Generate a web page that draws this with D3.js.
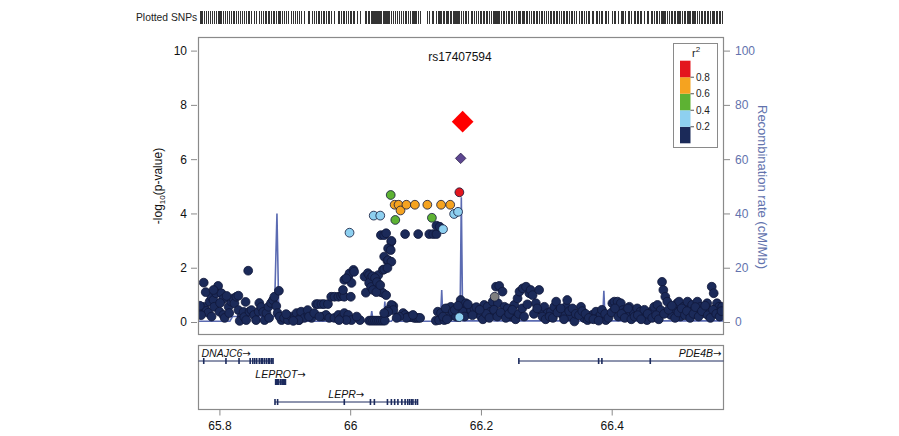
<!DOCTYPE html>
<html><head><meta charset="utf-8">
<script src="https://cdn.jsdelivr.net/npm/d3@7"></script>
<style>body{margin:0;background:#fff}svg{display:block}text{font-family:"Liberation Sans",Arial,sans-serif}</style>
</head><body><svg id="c" width="899" height="436"></svg>
<script>
// ---------- data ----------
const xDomain = [65.768, 66.571];
const xTicks = [65.8, 66, 66.2, 66.4];
const xTickLabels = ["65.8", "66", "66.2", "66.4"];
const yTicks = [0, 2, 4, 6, 8, 10];
const recTicks = [0, 20, 40, 60, 80, 100];
const legendTicks = [0.2, 0.4, 0.6, 0.8];
const r2Bins = [0, 0.2, 0.4, 0.6, 0.8, 1.0];
const r2Colors = ["#1b2a59", "#8ed0f0", "#5db233", "#f5a320", "#e3161e"];
const leadSnp = { name: "rs17407594", pos: 66.172, logp: 7.38 };
const purpleSnps = [[66.169, 6.03]];
const graySnps = [[66.221, 0.93]];
const redSnps = [[66.167, 4.78]];
const orangeSnps = [[66.068,4.32],[66.074,4.32],[66.077,4.11],[66.086,4.32],[66.099,4.32],[66.118,4.32],[66.139,4.32],[66.153,4.32]];
const greenSnps = [[66.062,4.68],[66.069,3.76],[66.125,3.84]];
const lightBlueSnps = [[65.999,3.29],[66.036,3.92],[66.046,3.92],[66.142,3.42],[66.159,3.98],[66.165,4.06],[66.167,0.18]];
const navySnps = [
[65.776,1.45],[65.773,0.44],[65.777,0.56],[65.780,0.41],[65.785,0.75],[65.788,0.93],[65.791,0.81],[65.783,0.34],[65.798,1.33],[65.795,1.06],
[65.803,1.06],[65.792,0.56],[65.800,0.38],[65.806,0.26],[65.808,0.15],[65.814,0.56],[65.818,0.75],[65.821,0.87],[65.823,0.69],[65.826,0.93],
[65.829,0.97],[65.815,0.33],[65.806,0.85],[65.788,0.2],[65.829,0.44],[65.834,0.2],[65.831,0.04],[65.811,0.96],[65.779,1.10],[65.791,1.18],
[65.801,0.70],[65.840,0.74],[65.837,0.37],[65.770,0.6],[65.772,0.25],
[65.844,1.89],[65.838,0.18],[65.841,0.07],[65.846,0.38],[65.849,0.44],[65.853,0.26],[65.856,0.07],[65.860,0.38],[65.861,0.70],[65.864,0.55],
[65.867,0.37],[65.869,0.07],[65.872,0.33],[65.875,0.56],[65.876,0.15],[65.879,0.70],[65.882,0.81],[65.884,0.93],[65.887,0.59],[65.891,1.15],
[65.889,0.33],[65.895,0.07],[65.892,0.2],[65.899,0.15],[65.905,0.07],[65.910,0.2],[65.915,0.15],[65.918,0.33],[65.922,0.07],[65.925,0.2],
[65.925,0.38],[65.930,0.15],[65.936,0.26],[65.941,0.15],[65.921,0.07],[65.902,0.29],[65.913,0.04],
[65.935,0.44],[65.937,0.2],[65.945,0.33],[65.948,0.66],[65.951,0.66],[65.956,0.66],[65.960,0.66],[65.966,0.66],[65.958,0.2],[65.963,0.26],
[65.968,0.15],[65.953,0.2],[65.971,0.93],[65.976,0.93],[65.982,0.93],[65.986,0.95],[65.989,1.0],[65.991,0.93],[65.976,0.15],[65.982,0.26],
[65.986,0.15],[65.991,0.33],[65.997,0.26],[66.002,0.07],[65.994,0.07],[65.983,0.07],[65.991,1.55],[65.997,1.67],[65.999,1.79],[66.005,1.92],
[66.006,1.85],[66.002,1.44],[65.994,1.61],[65.989,1.18],[66.001,0.93],
[66.022,1.67],[66.024,1.08],[66.027,1.80],[66.029,1.73],[66.032,1.62],[66.035,1.55],[66.037,1.47],[66.040,1.36],[66.043,1.25],[66.044,1.18],
[66.047,1.10],[66.050,1.07],[66.055,0.99],[66.029,1.44],[66.032,1.29],[66.035,1.18],[66.040,1.10],[66.043,1.73],[66.034,1.69],[66.038,1.62],
[66.041,1.47],[66.046,1.36],[66.050,1.92],[66.052,2.41],[66.057,2.25],[66.060,2.71],[66.063,2.96],[66.047,3.20],[66.052,3.20],[66.055,3.27],
[66.063,2.99],[66.058,2.71],[66.062,2.65],[66.058,2.28],[66.063,2.22],[66.052,1.94],[66.057,1.99],[66.066,0.59],[66.063,0.63],[66.058,0.44],
[66.055,0.33],[66.029,0.05],[66.032,0.05],[66.035,0.05],[66.038,0.05],[66.041,0.05],[66.044,0.05],[66.047,0.05],[66.050,0.05],[66.053,0.05],
[66.066,0.44],[66.058,0.38],[66.052,0.33],[66.015,0.07],[66.010,0.2],
[66.084,3.24],[66.104,3.24],[66.121,3.24],[66.127,3.24],[66.132,3.24],[66.132,3.55],[66.137,3.51],
[66.081,0.33],[66.084,0.26],[66.088,0.18],[66.091,0.2],[66.094,0.18],[66.098,0.15],[66.101,0.15],[66.104,0.15],[66.107,0.15],[66.086,0.15],
[66.096,0.26],[66.075,0.2],[66.071,0.15],
[66.131,0.05],[66.136,0.07],[66.134,0.38],[66.144,0.07],[66.149,0.5],[66.154,0.56],[66.159,0.38],[66.164,0.2],[66.169,0.81],[66.175,0.56],
[66.180,0.44],[66.152,0.2],
[66.139,0.33],[66.146,0.5],[66.157,0.38],[66.162,0.2],[66.172,0.38],[66.177,0.69],[66.185,0.44],[66.190,0.5],[66.195,0.33],[66.200,0.2],
[66.205,0.63],[66.210,0.56],[66.215,0.38],[66.218,0.75],[66.223,1.3],[66.228,1.33],[66.233,1.12],[66.226,0.69],[66.236,0.56],[66.241,0.5],
[66.246,0.2],[66.251,0.63],[66.256,0.87],[66.259,1.12],[66.264,1.24],[66.269,1.3],[66.274,1.06],[66.276,1.18],[66.279,0.99],[66.284,0.69],
[66.289,1.18],[66.292,0.44],[66.297,0.56],[66.302,0.33],[66.307,0.38],[66.312,0.56],[66.315,0.75],[66.320,0.44],[66.325,0.26],[66.330,0.56],
[66.332,0.81],[66.337,0.2],[66.343,0.02],[66.353,0.56],[66.358,0.14],[66.363,0.07],[66.370,0.26],[66.376,0.38],[66.378,0.14],[66.383,0.26],
[66.391,0.07],[66.401,0.69],[66.404,0.75],[66.409,0.75],[66.414,0.69],[66.417,0.44],[66.421,0.38],[66.427,0.56],[66.429,0.26],[66.434,0.33],
[66.439,0.5],[66.444,0.38],[66.449,0.2],[66.454,0.07],[66.460,0.38],[66.465,0.56],[66.470,0.63],[66.475,0.44],[66.477,1.48],[66.479,1.18],
[66.482,0.93],[66.485,0.75],[66.490,0.26],[66.495,0.5],[66.500,0.69],[66.503,0.75],[66.505,0.2],[66.510,0.56],[66.516,0.75],[66.518,0.38],
[66.523,0.63],[66.526,0.44],[66.531,0.75],[66.536,0.56],[66.541,0.33],[66.546,0.69],[66.548,0.44],[66.553,1.3],[66.556,1.06],[66.559,0.5],
[66.561,0.69],[66.564,0.56],[66.569,0.56],
[66.385,0.45],[66.390,0.3],[66.395,0.15],[66.400,0.35],[66.405,0.5],[66.410,0.2],[66.415,0.3],[66.420,0.15],[66.425,0.5],[66.430,0.1],
[66.435,0.2],[66.440,0.25],[66.445,0.1],[66.450,0.45],[66.455,0.3],[66.462,0.15],[66.468,0.25],[66.472,0.1],[66.480,0.3],[66.487,0.45],
[66.492,0.6],[66.497,0.15],[66.502,0.35],[66.507,0.5],[66.512,0.25],[66.515,0.4],[66.520,0.15],[66.525,0.3],[66.528,0.55],[66.533,0.2],
[66.538,0.4],[66.543,0.6],[66.547,0.25],[66.551,0.15],[66.555,0.45],[66.560,0.3],[66.565,0.2],[66.568,0.4],
[66.203,0.1],[66.208,0.3],[66.213,0.15],[66.220,0.45],[66.225,0.2],[66.230,0.35],[66.238,0.15],[66.243,0.3],[66.248,0.45],[66.253,0.1],
[66.258,0.3],[66.263,0.5],[66.266,0.2],[66.271,0.65],[66.281,0.3],[66.286,0.5],[66.294,0.2],[66.299,0.1],[66.305,0.2],[66.310,0.15],
[66.317,0.35],[66.322,0.5],[66.327,0.1],[66.335,0.4],[66.340,0.5],[66.345,0.3],[66.350,0.25],[66.355,0.4],[66.360,0.3],[66.365,0.15],
[66.372,0.1],[66.380,0.05],
[66.142,0.2],[66.148,0.1],[66.160,0.45],[66.165,0.6],[66.175,0.2],[66.180,0.65],[66.187,0.25],[66.193,0.55],[66.198,0.45]
];
// recombination rate (cM/Mb)
const recPos  = [65.768,65.816,65.820,65.884,65.888,65.891,65.896,65.999,66.0015,66.004,66.031,66.033,66.035,66.051,66.053,66.055,66.063,66.067,66.071,66.138,66.140,66.142,66.168,66.170,66.172,66.216,66.218,66.220,66.386,66.388,66.390,66.571];
const recRate = [0.3,   0.3,   2.0,   2.0,   40,    1.0,   0.3,   0.3,   3.0,    0.3,   0.3,   4.0,   0.3,   0.3,   7.5,   0.3,   0.3,   1.5,   0.3,   0.3,   11.8,  0.3,   0.3,   46,    0.4,   0.4,   10.7,  0.4,   0.4,   11.5,  0.4,   0.4];
// genes (Mb)
const geneNames  = ["DNAJC6", "LEPROT", "LEPR", "PDE4B"];
const geneStarts = [65.700, 65.886, 65.885, 66.258];
const geneEnds   = [65.882, 65.901, 66.103, 66.840];
const geneRows   = [0, 1, 2, 0];
const geneExons  = [
  [65.776,65.810,65.830,65.847,65.851,65.854,65.857,65.861,65.864,65.866,65.869,65.872,65.875,65.877,65.880,65.882],
  [65.886,65.887,65.889,65.890,65.893,65.894,65.896,65.897,65.898,65.899,65.900,65.901],
  [65.885,65.889,65.991,66.031,66.037,66.057,66.063,66.068,66.073,66.079,66.084,66.088,66.091,66.094,66.096,66.100,66.103],
  [66.258,66.380,66.385,66.459]
];

// ---------- layout ----------
const svg = d3.select("#c");
const P = { l: 198.5, r: 723.5, t: 37.5, b: 334.5 };
const G = { t: 345.5, b: 409.5 };
const x = d3.scaleLinear().domain(xDomain).range([P.l, P.r]);
const y = d3.scaleLinear().domain([0, 10]).range([322, 50.6]);
const yRec = d3.scaleLinear().domain([0, 100]).range([322, 50.6]);
const r2Color = d3.scaleThreshold().domain(r2Bins.slice(1, 5)).range(r2Colors);
const recColor = "#5b6bb2";
const axisGray = "#8a8a8a";

svg.append("defs").append("clipPath").attr("id", "plotClip")
  .append("rect").attr("x", P.l).attr("y", P.t).attr("width", P.r - P.l).attr("height", P.b - P.t);
svg.select("defs").append("clipPath").attr("id", "geneClip")
  .append("rect").attr("x", P.l).attr("y", G.t).attr("width", P.r - P.l).attr("height", G.b - G.t);

// Plotted SNPs rug
const allSnps = [].concat(navySnps, lightBlueSnps, greenSnps, orangeSnps, redSnps, graySnps, purpleSnps, [[leadSnp.pos, leadSnp.logp]]);
svg.append("text").attr("x", 136).attr("y", 21).attr("font-size", 10.3).attr("fill", "#222").text("Plotted SNPs");
svg.append("g").selectAll("line").data(allSnps).join("line")
  .attr("x1", d => Math.round(x(d[0])) + 0.5).attr("x2", d => Math.round(x(d[0])) + 0.5)
  .attr("y1", 11).attr("y2", 24).attr("stroke", "#333").attr("stroke-width", 1);

// recombination line
const recData = recPos.map((p, i) => [p, recRate[i]]);
svg.append("g").attr("clip-path", "url(#plotClip)").append("path").datum(recData)
  .attr("fill", "none").attr("stroke", recColor).attr("stroke-width", 1.6)
  .attr("d", d3.line().x(d => x(d[0])).y(d => yRec(d[1])));

// points
const pts = svg.append("g").attr("clip-path", "url(#plotClip)");
function drawCircles(data, fill) {
  pts.append("g").selectAll("circle").data(data).join("circle")
    .attr("cx", d => x(d[0])).attr("cy", d => y(d[1])).attr("r", 4.4)
    .attr("fill", fill).attr("stroke", "#10183a").attr("stroke-width", 0.8);
}
drawCircles(navySnps, r2Color(0.1));
drawCircles(graySnps, "#7f7f7f");
drawCircles(lightBlueSnps, r2Color(0.3));
drawCircles(greenSnps, r2Color(0.5));
drawCircles(orangeSnps, r2Color(0.7));
drawCircles(redSnps, r2Color(0.9));
pts.append("g").selectAll("path").data(purpleSnps).join("path")
  .attr("transform", d => `translate(${x(d[0])},${y(d[1])})`)
  .attr("d", d3.symbol(d3.symbolDiamond2, 70)).attr("fill", "#5d4690").attr("stroke", "#2a1f4a").attr("stroke-width", 0.8);
pts.append("path").attr("transform", `translate(${x(leadSnp.pos)},${y(leadSnp.logp)})`)
  .attr("d", d3.symbol(d3.symbolDiamond2, 300)).attr("fill", "#ff0000");

// lead label
svg.append("text").attr("x", 460).attr("y", 61).attr("text-anchor", "middle").attr("font-size", 12).attr("fill", "#111").text(leadSnp.name);

// plot border
svg.append("rect").attr("x", P.l).attr("y", P.t).attr("width", P.r - P.l).attr("height", P.b - P.t)
  .attr("fill", "none").attr("stroke", axisGray).attr("stroke-width", 1.2);

// left axis
const ax = svg.append("g").attr("transform", `translate(${P.l - 1.5},0)`)
  .call(d3.axisLeft(y).tickValues(yTicks).tickSize(6).tickPadding(4).tickFormat(d3.format("d")));
ax.select(".domain").remove();
ax.selectAll("line").attr("stroke", axisGray);
ax.selectAll("text").attr("font-size", 12).attr("fill", "#111").attr("font-family", "Liberation Sans, Arial, sans-serif");

// right axis
const ar = svg.append("g").attr("transform", `translate(${P.r + 0.5},0)`)
  .call(d3.axisRight(yRec).tickValues(recTicks).tickSize(6).tickPadding(5));
ar.select(".domain").remove();
ar.selectAll("line").attr("stroke", axisGray);
ar.selectAll("text").attr("font-size", 12).attr("fill", "#6272ad").attr("font-family", "Liberation Sans, Arial, sans-serif");

// axis labels
const yl = svg.append("text").attr("transform", "translate(162,186) rotate(-90)").attr("text-anchor", "middle").attr("font-size", 12).attr("fill", "#111");
yl.append("tspan").text("-log");
yl.append("tspan").attr("font-size", 8).attr("dy", 3).text("10");
yl.append("tspan").attr("dy", -3).text("(p-value)");
svg.append("text").attr("transform", "translate(758,187) rotate(90)").attr("text-anchor", "middle")
  .attr("font-size", 13).attr("fill", "#6272ad").text("Recombination rate (cM/Mb)");

// legend
const L = { x: 673.5, y: 43.5, w: 44, h: 104 };
svg.append("rect").attr("x", L.x).attr("y", L.y).attr("width", L.w).attr("height", L.h)
  .attr("fill", "#fff").attr("stroke", axisGray).attr("stroke-width", 1);
const ly = d3.scaleLinear().domain([0, 1]).range([143.3, 60.7]);
svg.append("g").selectAll("rect").data(r2Colors).join("rect")
  .attr("x", 680).attr("width", 10.5)
  .attr("y", (d, i) => ly(r2Bins[i + 1])).attr("height", (d, i) => ly(r2Bins[i]) - ly(r2Bins[i + 1]))
  .attr("fill", d => d);
const lg = svg.append("g");
lg.selectAll("line").data(legendTicks).join("line")
  .attr("x1", 690.5).attr("x2", 694).attr("y1", d => ly(d)).attr("y2", d => ly(d)).attr("stroke", "#555");
lg.selectAll("text").data(legendTicks).join("text")
  .attr("x", 696).attr("y", d => ly(d) + 3.5).attr("font-size", 10).attr("fill", "#222").text(d => d.toFixed(1));
const rt = svg.append("text").attr("x", 692).attr("y", 57).attr("font-size", 11).attr("fill", "#222");
rt.append("tspan").text("r");
rt.append("tspan").attr("font-size", 8).attr("dy", -5).text("2");

// gene panel
svg.append("rect").attr("x", P.l).attr("y", G.t).attr("width", P.r - P.l).attr("height", G.b - G.t)
  .attr("fill", "none").attr("stroke", axisGray).attr("stroke-width", 1.2);
const rowLine = [361, 382, 402];
const rowText = [357, 377.5, 398];
const gg = svg.append("g").attr("clip-path", "url(#geneClip)");
const geneColor = "#1c2b5e";
geneNames.forEach((name, i) => {
  const ly0 = rowLine[geneRows[i]];
  gg.append("line").attr("x1", x(geneStarts[i])).attr("x2", x(geneEnds[i]))
    .attr("y1", ly0).attr("y2", ly0).attr("stroke", geneColor).attr("stroke-width", 1);
  gg.append("g").selectAll("rect").data(geneExons[i]).join("rect")
    .attr("x", d => x(d) - 0.8).attr("width", 1.6).attr("y", ly0 - 3).attr("height", 6).attr("fill", geneColor);
});
const labels = svg.append("g");
geneNames.forEach((name, i) => {
  const t = labels.append("text").attr("y", rowText[geneRows[i]]).attr("font-size", 10.5)
    .attr("fill", "#111");
  t.append("tspan").attr("font-style", "italic").text(name);
  t.append("tspan").attr("font-family", "DejaVu Sans").attr("font-size", 10).text("\u2192");
  const w = t.node().getComputedTextLength();
  if (x(geneStarts[i]) < P.l) {
    t.attr("x", P.l + 3).attr("text-anchor", "start");
  } else if (x(geneEnds[i]) > P.r) {
    t.attr("x", P.r - 2).attr("text-anchor", "end");
  } else {
    t.attr("x", (x(geneStarts[i]) + x(geneEnds[i])) / 2).attr("text-anchor", "middle");
  }
});

// x axis
const xa = svg.append("g").attr("transform", `translate(0,${G.b})`)
  .call(d3.axisBottom(x).tickValues(xTicks).tickSize(6).tickPadding(6).tickFormat((d, i) => xTickLabels[i]));
xa.select(".domain").remove();
xa.selectAll("line").attr("stroke", axisGray);
xa.selectAll("text").attr("font-size", 12).attr("fill", "#111").attr("font-family", "Liberation Sans, Arial, sans-serif");
</script></body></html>
